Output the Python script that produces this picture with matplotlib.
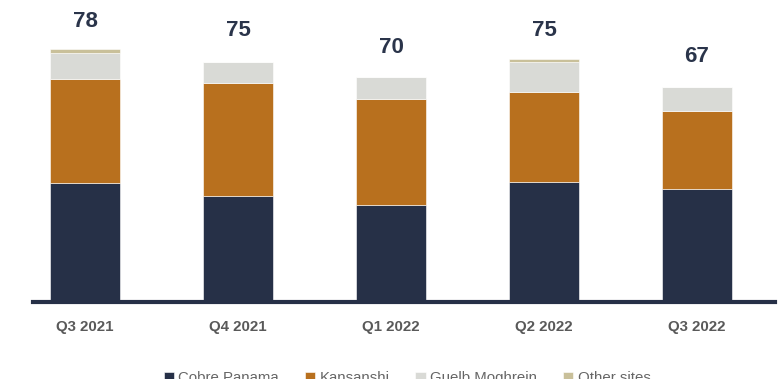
import numpy as np
import matplotlib
matplotlib.use("Agg")
import matplotlib.pyplot as plt

plt.rcParams['font.family'] = ['Liberation Sans', 'DejaVu Sans']

quarters = ["Q3 2021", "Q4 2021", "Q1 2022", "Q2 2022", "Q3 2022"]
totals = [78, 75, 70, 75, 67]
cobre = [36.8, 32.8, 30.0, 37.2, 35.0]
kansanshi = [32.2, 34.9, 32.8, 27.8, 24.1]
guelb = [8.2, 6.5, 7.0, 9.3, 7.6]
other = [1.0, 0.1, 0.0, 0.8, 0.0]

series = [("Cobre Panama", cobre, "#263047"),
          ("Kansanshi", kansanshi, "#b8701e"),
          ("Guelb Moghrein", guelb, "#d9dad6"),
          ("Other sites", other, "#c9c09a")]

fig = plt.figure(figsize=(7.83, 3.79), dpi=100)
ax = fig.add_axes([33/783, 77/379, 742/783, 302/379])

x = np.arange(len(quarters))
bottom = np.zeros(len(quarters))
for name, vals, col in series:
    ax.bar(x, vals, 0.457, bottom=bottom, color=col, label=name,
           edgecolor="white", linewidth=0.4, zorder=2)
    bottom += np.array(vals)

# totals above each stack
for xi, t in zip(x, totals):
    ax.annotate(str(t), (xi, t), xytext=(0, 20.8), textcoords="offset points",
                ha="center", va="center", fontsize=16, fontweight="bold",
                color="#2a344a")

ax.set_xlim(-0.34, 4.51)
ax.set_ylim(0, 93.5)
for s in ["top", "right", "left"]:
    ax.spines[s].set_visible(False)
ax.spines["bottom"].set_color("#263047")
ax.spines["bottom"].set_linewidth(3)
ax.spines["bottom"].set_zorder(3)
ax.set_yticks([])
ax.set_xticks(x)
ax.set_xticklabels(quarters, fontsize=10.8, fontweight="bold", color="#595959")
ax.tick_params(axis="x", length=0, pad=13)

fig.legend(loc="center", bbox_to_anchor=(407/783, 1/379), ncol=4, frameon=False,
           fontsize=10.8, labelcolor="#666666", handlelength=0.7, handleheight=0.7,
           handletextpad=0.3, columnspacing=1.7)

fig.savefig("out.png", dpi=100)
